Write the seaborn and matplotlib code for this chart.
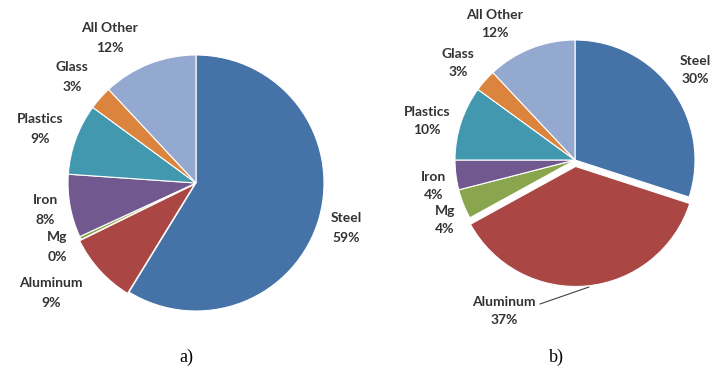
import matplotlib
matplotlib.use("Agg")
import matplotlib.pyplot as plt
import seaborn as sns

# Material shares of vehicle mass (percent)
materials = ["Steel", "Aluminum", "Mg", "Iron", "Plastics", "Glass", "All Other"]
share_a = [59, 9, 0.4, 8, 9, 3, 12]
share_b = [30, 37, 4, 4, 10, 3, 12]
panel_titles = ["a)", "b)"]

palette = sns.color_palette(["#4572A7", "#AA4643", "#89A54E", "#71588F",
                             "#4198AF", "#DB843D", "#93A9CF"])

sns.set_theme(style="white")
plt.rcParams["font.family"] = ["Lato", "DejaVu Sans"]

W, H = 710, 379
fig = plt.figure(figsize=(W / 100, H / 100), dpi=100)
ax = fig.add_axes([0, 0, 1, 1])


def py(y):
    """Convert a top-down pixel row to the axes' bottom-up coordinate."""
    return H - y


# Layout for each panel: pie centre/radius, exploded offset (px), label anchors
panels = [
    dict(values=share_a, center=(196, 183), radius=128, explode=2.0,
         labels=[(346, 228), (51, 293), (57, 247), (45, 210),
                 (40, 129), (72, 77), (110, 38)],
         spacing=1.8, title_xy=(186, 357)),
    dict(values=share_b, center=(575, 160), radius=120, explode=6.5,
         labels=[(695, 70), (504, 311), (445, 220), (434, 186),
                 (427, 121), (458, 63), (495, 24)],
         spacing=1.6, title_xy=(556, 357)),
]

for p, title in zip(panels, panel_titles):
    cx, cy = p["center"]
    explode = [0, p["explode"], 0, 0, 0, 0, 0]
    wedges, _ = ax.pie(p["values"], colors=palette, startangle=90,
                       counterclock=False, center=(cx, py(cy)),
                       radius=p["radius"], explode=explode,
                       wedgeprops=dict(edgecolor="white", linewidth=0.8))
    for name, val, (lx, ly) in zip(materials, p["values"], p["labels"]):
        ax.text(lx, py(ly), f"{name}\n{round(val)}%", ha="center",
                va="center", fontsize=10, fontweight="bold",
                color="#333333", linespacing=p["spacing"])
    ax.text(p["title_xy"][0], py(p["title_xy"][1]), title,
            ha="center", va="center", fontsize=13,
            family=["Liberation Serif", "DejaVu Serif"], color="black")

# Leader line from the Aluminum label to its slice in panel b)
ax.plot([540, 589], [py(304), py(287)], color="#404040", linewidth=0.8)

ax.set_aspect("auto")
ax.set_xlim(0, W)
ax.set_ylim(0, H)
ax.set_axis_off()

fig.savefig("out.png", dpi=100)
